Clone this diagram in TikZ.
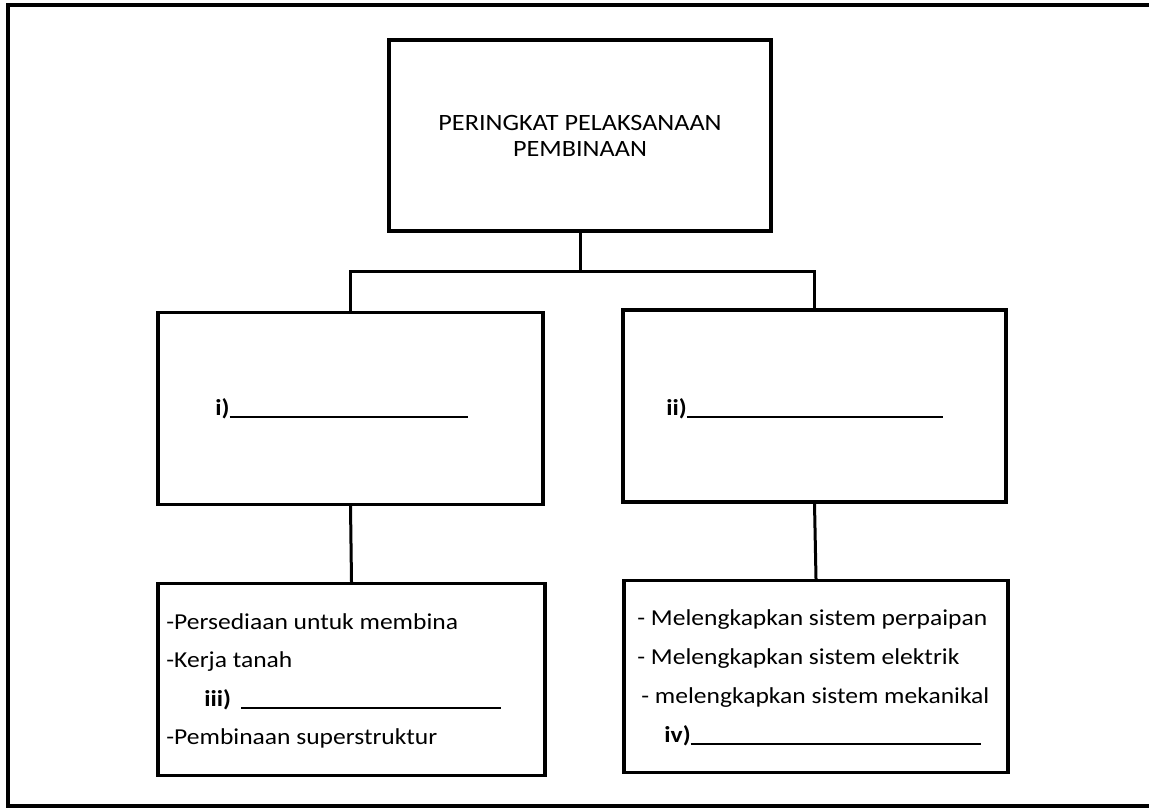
\documentclass[tikz,border=0pt]{standalone}
\usepackage{fontspec}
\setmainfont{Carlito}[FakeStretch=1.12]
\begin{document}
\begin{tikzpicture}[x=0.5pt, y=-0.5pt,
    kasten/.style={draw, line width=1.6pt, inner sep=0pt, minimum height=96pt},
    eintrag/.style={anchor=base west, inner sep=0pt, font=\fontsize{11.4}{13}\selectfont},
    luecke/.style={eintrag, font=\fontsize{11.4}{13}\selectfont\bfseries},
    linie/.style={line width=1.5pt}]
  \useasboundingbox (0,0) rectangle (1149,808);
  % Rahmen
  \draw [line width=1.8pt] (1149,5) -- (8,5) -- (8,806) -- (1149,806);
  % Kaesten
  \node [kasten, minimum width=191pt, minimum height=95.5pt, align=center,
         font=\fontsize{11.7}{13}\selectfont] (stufe) at (580,135.5)
         {PERINGKAT PELAKSANAAN\\PEMBINAAN};
  \node [kasten, minimum width=192.5pt] (links)       at (350.5,408.5) {};
  \node [kasten, minimum width=191.5pt] (rechts)      at (814.5,406)   {};
  \node [kasten, minimum width=193.5pt] (listelinks)  at (351.5,679.5) {};
  \node [kasten, minimum width=192pt]   (listerechts) at (816,676.5)   {};
  % Verbindungen
  \draw [linie] (stufe.south) -- ++(0,39) coordinate (gabel);
  \draw [linie] (gabel) -| (links.north);
  \draw [linie] (gabel) -| (rechts.north);
  \draw [linie] (links.south)  -- (listelinks.north);
  \draw [linie] (rechts.south) -- (listerechts.north);
  % Luecken
  \node [luecke] (eins) at (215,415) {i)\rule[-1.5pt]{119pt}{0.8pt}};
  \node [luecke] (zwei) at (666,415) {ii)\rule[-1.5pt]{128pt}{0.8pt}};
  % Liste links
  \node [eintrag] (persediaan) at (166,629) {-Persediaan untuk membina};
  \node [eintrag] (kerja)      at (166,667) {-Kerja tanah};
  \node [luecke]  (drei)       at (204,706) {iii)\hspace{5pt}\rule[-1.5pt]{130pt}{0.8pt}};
  \node [eintrag] (super)      at (166,744) {-Pembinaan superstruktur};
  % Liste rechts
  \node [eintrag] (paip)     at (637,625) {- Melengkapkan sistem perpaipan};
  \node [eintrag] (elektrik) at (637,664) {- Melengkapkan sistem elektrik};
  \node [eintrag] (mekanik)  at (641,703) {- melengkapkan sistem mekanikal};
  \node [luecke]  (vier)     at (664,742) {iv)\rule[-1.5pt]{145pt}{0.8pt}};
\end{tikzpicture}
\end{document}
